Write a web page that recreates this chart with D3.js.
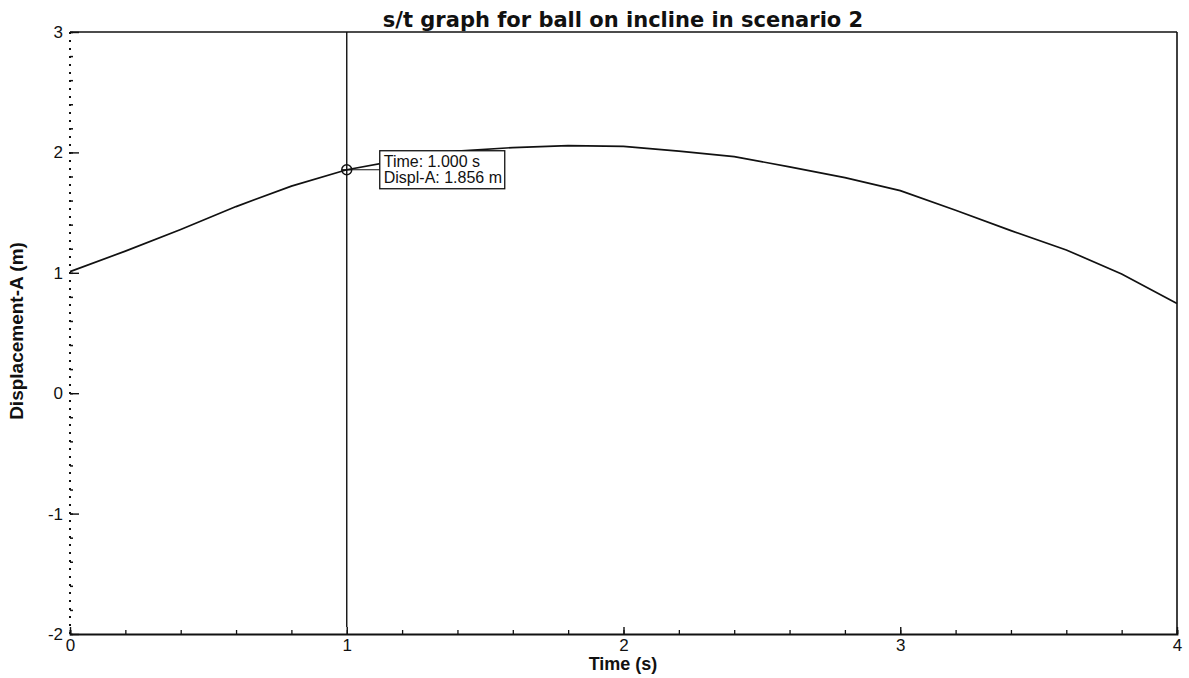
<!DOCTYPE html>
<html>
<head>
<meta charset="utf-8">
<script src="https://cdn.jsdelivr.net/npm/d3@7"></script>
<style>
  html, body { margin: 0; padding: 0; background: #fff; }
  svg { display: block; }
  .tick text { font-family: "Liberation Sans", Arial, sans-serif; font-size: 17px; fill: #111; }
</style>
</head>
<body>
<svg id="chart" width="1189" height="678"></svg>
<script>
// Displacement of ball on the incline, sampled over time
const timeS = [0, 0.2, 0.4, 0.6, 0.8, 1.0, 1.2, 1.4, 1.6, 1.8, 2.0, 2.2, 2.4, 2.6, 2.8, 3.0, 3.2, 3.4, 3.6, 3.8, 4.0];
const displA = [1.01, 1.18, 1.36, 1.55, 1.72, 1.856, 1.94, 2.01, 2.04, 2.056, 2.05, 2.01, 1.965, 1.88, 1.79, 1.682, 1.52, 1.35, 1.19, 0.99, 0.746];

const xMajor = [0, 1, 2, 3, 4];
const yMajor = [-2, -1, 0, 1, 2, 3];
const cursorT = 1.0;
const cursorVal = 1.856;

const titleText = "s/t graph for ball on incline in scenario 2";
const xLabel = "Time (s)";
const yLabel = "Displacement-A (m)";

const svg = d3.select("#chart");
const plotL = 70, plotR = 1177, plotT = 32, plotB = 634;

const x = d3.scaleLinear().domain([0, 4]).range([plotL, plotR]);
const y = d3.scaleLinear().domain([-2, 3]).range([plotB, plotT]);

const minorX = d3.range(0, 4.0001, 0.2).map(v => +v.toFixed(1));
const minorY = d3.range(-2, 3.0001, 0.2).map(v => +v.toFixed(1));
const plainInt = d => String(Math.round(d));

// frame: top and right edges
svg.append("line").attr("x1", plotL).attr("x2", plotR).attr("y1", plotT).attr("y2", plotT)
  .attr("stroke", "#111").attr("stroke-width", 1.6);
svg.append("line").attr("x1", plotR).attr("x2", plotR).attr("y1", plotT).attr("y2", plotB)
  .attr("stroke", "#111").attr("stroke-width", 1.6);

// dotted left axis line
svg.append("line").attr("x1", plotL).attr("x2", plotL).attr("y1", plotT).attr("y2", plotB)
  .attr("stroke", "#111").attr("stroke-width", 2).attr("stroke-dasharray", "2,6");

// y axis minor ticks
svg.append("g").attr("transform", `translate(${plotL},0)`)
  .call(d3.axisLeft(y).tickValues(minorY).tickSize(-3).tickFormat(""))
  .call(g => g.select(".domain").remove())
  .call(g => g.selectAll("line").attr("stroke", "#111").attr("stroke-width", 1.5));

// y axis major ticks and labels
svg.append("g").attr("transform", `translate(${plotL},0)`)
  .call(d3.axisLeft(y).tickValues(yMajor).tickSize(-9).tickPadding(7).tickFormat(plainInt))
  .call(g => g.select(".domain").remove())
  .call(g => g.selectAll("line").attr("stroke", "#111").attr("stroke-width", 1.4));

// x axis line with minor and major ticks
svg.append("g").attr("transform", `translate(0,${plotB})`)
  .call(d3.axisBottom(x).tickValues(minorX).tickSize(-4).tickFormat(""))
  .call(g => g.select(".domain").attr("stroke", "#111").attr("stroke-width", 1.8))
  .call(g => g.selectAll("line").attr("stroke", "#111").attr("stroke-width", 1.3));

svg.append("g").attr("transform", `translate(0,${plotB})`)
  .call(d3.axisBottom(x).tickValues(xMajor).tickSize(-7).tickPadding(5).tickFormat(plainInt))
  .call(g => g.select(".domain").remove())
  .call(g => g.selectAll("line").attr("stroke", "#111").attr("stroke-width", 1.4));

// cursor line at the selected time
svg.append("line").attr("x1", x(cursorT)).attr("x2", x(cursorT)).attr("y1", plotT).attr("y2", plotB - 7)
  .attr("stroke", "#111").attr("stroke-width", 1.4);

// displacement curve
const line = d3.line().x((d, i) => x(timeS[i])).y(d => y(d));
svg.append("path").datum(displA)
  .attr("d", line)
  .attr("fill", "none").attr("stroke", "#111").attr("stroke-width", 1.7);

// cursor readout
const cx = x(cursorT), cy = y(cursorVal);
svg.append("line").attr("x1", cx).attr("x2", cx + 33).attr("y1", cy).attr("y2", cy)
  .attr("stroke", "#111").attr("stroke-width", 1.2);
svg.append("circle").attr("cx", cx).attr("cy", cy).attr("r", 5)
  .attr("fill", "none").attr("stroke", "#111").attr("stroke-width", 1.4);
svg.append("line").attr("x1", cx - 5).attr("x2", cx + 5).attr("y1", cy).attr("y2", cy)
  .attr("stroke", "#111").attr("stroke-width", 1.2);

const box = svg.append("g").attr("transform", `translate(${cx + 33},${cy - 19})`);
box.append("rect").attr("x", 0).attr("y", 0).attr("width", 125).attr("height", 38)
  .attr("fill", "#fff").attr("stroke", "#111").attr("stroke-width", 1.3);
box.append("text").attr("x", 4).attr("y", 16)
  .attr("font-family", "Liberation Sans, Arial, sans-serif").attr("font-size", 16).attr("fill", "#111")
  .text(`Time: ${cursorT.toFixed(3)} s`);
box.append("text").attr("x", 4).attr("y", 32)
  .attr("font-family", "Liberation Sans, Arial, sans-serif").attr("font-size", 16).attr("fill", "#111")
  .text(`Displ-A: ${cursorVal.toFixed(3)} m`);

// titles
svg.append("text").attr("x", 623).attr("y", 27).attr("text-anchor", "middle")
  .attr("font-family", "DejaVu Sans, Verdana, sans-serif").attr("font-weight", "bold")
  .attr("font-size", 21).attr("fill", "#111").text(titleText);

svg.append("text").attr("x", 623).attr("y", 670).attr("text-anchor", "middle")
  .attr("font-family", "Liberation Sans, Arial, sans-serif").attr("font-weight", "bold")
  .attr("font-size", 18).attr("fill", "#111").text(xLabel);

svg.append("text").attr("transform", "translate(23,331) rotate(-90)").attr("text-anchor", "middle")
  .attr("font-family", "Liberation Sans, Arial, sans-serif").attr("font-weight", "bold")
  .attr("font-size", 19).attr("fill", "#111").text(yLabel);
</script>
</body>
</html>
